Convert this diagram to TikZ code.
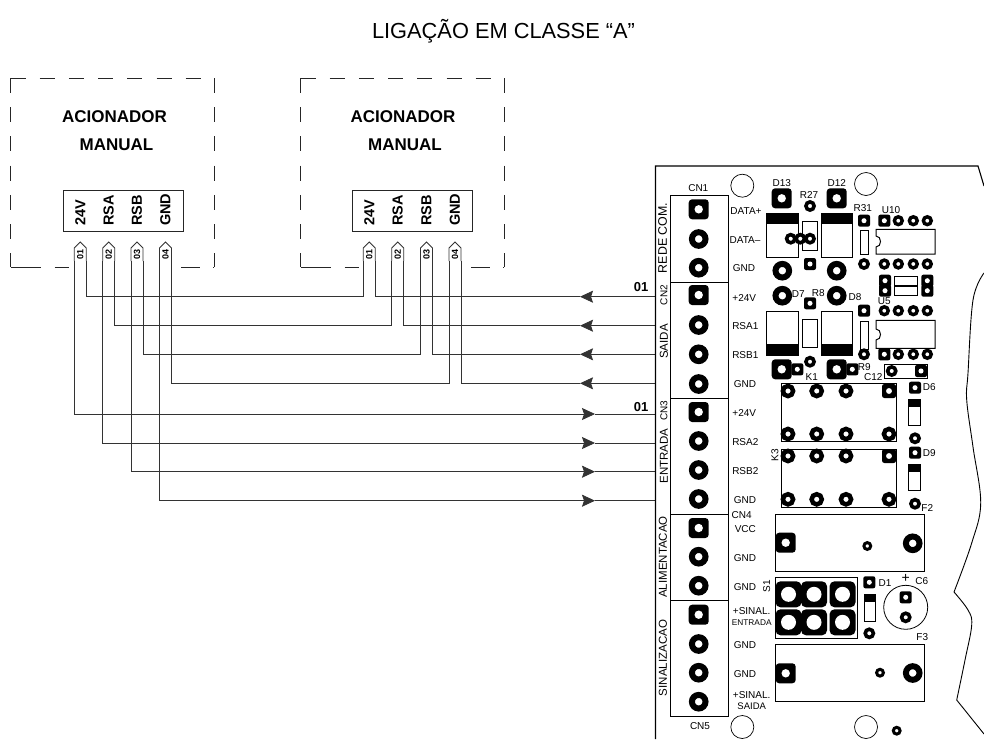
\documentclass[tikz,border=0pt]{standalone}
\usepackage{fontspec}
\setmainfont{Liberation Sans}
\usetikzlibrary{arrows.meta,calc}

\begin{document}
\begin{tikzpicture}[x=1pt,y=-1pt,>={Stealth[length=13pt,width=12pt,inset=2pt]},
  wire/.style={line width=.8pt,draw=black!80},
  dash box/.style={line width=.7pt,draw=black!85,dash pattern=on 15pt off 14.2pt},
  comp/.style={line width=1pt,draw=black},
  strip/.style={line width=.8pt,draw=black!85},
  round pad/.style={circle,draw,fill=white,inner sep=0pt,line width=#1*.3pt,minimum size=#1*.68pt},
  square pad/.style={rectangle,fill=black,rounded corners=#1*.17pt,inner sep=0pt,minimum size=#1*1pt,
    path picture={\fill[white] (path picture bounding box.center) circle (#1*.21pt);}},
  wide pad/.style={rectangle,fill=black,rounded corners=5pt,inner sep=0pt,minimum size=26pt,
    path picture={\fill[white] (path picture bounding box.center) circle (7.5pt);}},
  box title/.style={font=\fontsize{17}{18}\selectfont\bfseries,inner sep=0pt},
  term label/.style={font=\fontsize{14.5}{16}\selectfont\bfseries,rotate=90,anchor=west,inner sep=0pt},
  pin label/.style={font=\fontsize{9}{10}\selectfont\bfseries,rotate=90,inner sep=0pt,outer sep=0pt,
    minimum width=13pt,minimum height=12pt},
  wire label/.style={font=\fontsize{13}{14}\selectfont\bfseries,inner sep=0pt},
  board text/.style={font=\fontsize{10}{11}\selectfont,inner sep=0pt},
  side text/.style={font=\fontsize{11.5}{12}\selectfont,rotate=90,inner sep=0pt}]
  \useasboundingbox (0,0) rectangle (984,739);

  \node[font=\fontsize{21.8}{24}\selectfont,inner sep=0pt] (title) at (503.5,31) {LIGAÇÃO EM CLASSE “A”};

  % acionadores
  \foreach \x in {0,290} {
    \begin{scope}[xshift=\x pt]
      \draw[dash box] (10.5,78) -- (214,78);
      \draw[dash box] (10.5,78) -- (10.5,267);
      \draw[dash box] (214,78) -- (214,267);
      \draw[dash box,dash pattern=on 30pt off 14pt on 15pt off 14pt] (10.5,267) -- (69,267);
      \draw[dash box,dash pattern=on 19pt off 13pt on 2pt off 20pt] (181,267) -- (214,267);
    \end{scope}
  }
  \node[box title] (acA) at (114.5,117) {ACIONADOR};
  \node[box title] (manA) at (116.5,145) {MANUAL};
  \node[box title] (acB) at (403,117) {ACIONADOR};
  \node[box title] (manB) at (405,145) {MANUAL};
  \draw[strip] (63,190.7) rectangle (183,231.3);
  \draw[strip] (352,190.7) rectangle (472,231.3);
  \foreach \n/\t/\x in {1/24V/80.3,2/RSA/108.7,3/RSB/137,4/GND/165.5} {
    \node[term label] (tA\n) at (\x,226) {\t};
    \node[pin label] (a\n) at (\x,254.5) {0\n};
  }
  \foreach \n/\t/\x in {1/24V/369.3,2/RSA/397.7,3/RSB/426.5,4/GND/455} {
    \node[term label] (tB\n) at (\x,226) {\t};
    \node[pin label] (b\n) at (\x,254.5) {0\n};
  }
  \foreach \p in {a1,a2,a3,a4,b1,b2,b3,b4}
    \draw[wire] (\p.north west) -- (\p.north east) -- ++(6,-6) -- ++(6,6) -- (\p.south west);

  % saida
  \foreach \n/\y in {1/296.7,2/325.7,3/354.3,4/383.3} {
    \coordinate (e\n) at (655.5,\y);
    \coordinate (g\n) at (580,\y);
    \draw[wire] (a\n.south west) -- (a\n.south west |- e\n) -- (b\n.north west |- e\n) -- (b\n.north west);
    \draw[wire] (b\n.south west) |- (g\n);
    \draw[wire,->] (e\n) -- (g\n);
  }
  % entrada
  \foreach \n/\k/\y in {1/5/414,2/6/443,3/7/471.7,4/8/500.7} {
    \coordinate (e\k) at (655.5,\y);
    \coordinate (g\k) at (595,\y);
    \draw[wire,->] (a\n.north west) |- (g\k);
    \draw[wire] (g\k) -- (e\k);
  }
  \node[wire label] (w1) at (641,286.7) {01};
  \node[wire label] (w2) at (641,406.7) {01};

  % placa
  \draw[line width=1.1pt] (655.5,739) -- (655.5,166) -- (978,166) -- (984,186);
  \draw[line width=.9pt] plot[smooth,tension=.6] coordinates {(984,273) (973,300) (968,373) (966.7,400) (973,447) (980.7,503) (971.7,543) (954,592)};
  \draw[line width=.9pt] plot[smooth,tension=.6] coordinates {(954,592) (968,610) (971.7,625) (965,660) (956.7,700)} -- (984,734);

  % conectores
  \draw[comp] (670,195) rectangle (728,716);
  \foreach \y in {282,398,514,600.7}
    \draw[comp] (670,\y) -- (728,\y);
  \foreach \n/\y in {1/209.3,4/295,8/412,11/528,14/614.7}
    \node[square pad=20] (t\n) at (698.7,\y) {};
  \foreach \n/\y in {2/239,3/267.7,5/325,6/354.3,7/384,9/441,10/470,12/499,13/556.7,15/585.7,16/644,17/672.7,18/701.7}
    \node[round pad=20] (t\n) at (698.7,\y) {};

  \foreach[count=\i] \t/\x/\y in {DATA+/746/210.7,DATA–/745/240,GND/744/268.3,+24V/744.3/298,RSA1/745.3/326,RSB1/745.3/355,GND/745/384,
    +24V/744.3/413.3,RSA2/745.3/442.3,RSB2/745.3/471,GND/745/500,CN4/741.7/515,VCC/745.3/529,GND/745/557.7,GND/745/586.7,
    +SINAL./751.7/611.3,GND/745/644.7,GND/745/673.7,+SINAL./751.7/695.3,CN1/698.3/188.3,CN5/700/726,
    D13/781.7/182.7,D12/836.7/182.7,R27/809/195,R31/862.7/208.3,U10/891/210,D7/798.3/294.3,R8/818.3/293.3,D8/855/296.7,U5/884.3/301,
    K1/811.7/376.7,R9/864.3/367.3,C12/873.3/376.7,D6/929.3/387.3,D9/929.3/452.7,F2/927.3/507.7,D1/885/582.7,C6/921.7/580.7,F3/922.3/637.3}
    \node[board text] (bt\i) at (\x,\y) {\t};
  \node[board text,font=\fontsize{8.3}{9}\selectfont] (btE) at (751.7,623) {ENTRADA};
  \node[board text,font=\fontsize{9.5}{10}\selectfont] (btS) at (751.7,706.7) {SAIDA};
  \node[board text,rotate=90] (btK) at (775,455) {K3};
  \node[board text,rotate=90] (btF) at (766.7,586) {S1};
  \node[board text,font=\fontsize{14}{15}\selectfont] (btP) at (905.7,578) {+};

  \node[side text,font=\fontsize{12.4}{13}\selectfont] (sd1) at (662.7,238) {REDE COM.};
  \foreach[count=\i from 2] \t/\x/\y in {SAIDA/664/341.5,ENTRADA/664/456,ALIMENTACAO/663/557,SINALIZACAO/663/658}
    \node[side text] (sd\i) at (\x,\y) {\t};
  \node[side text,font=\fontsize{10}{11}\selectfont] (sdA) at (664,295) {CN2};
  \node[side text,font=\fontsize{10}{11}\selectfont] (sdB) at (664,410.5) {CN3};

  % furos
  \draw[line width=.7pt] (742.3,185.7) circle (11.5) (866,184) circle (11.5) (742.3,727) circle (11.5) (866,727) circle (11.5);
  \node[round pad=10] (h1) at (896.7,730.7) {};

  % diodos e resistores
  \foreach \x/\w in {766.7/798.7,821/852.3} {
    \draw[comp] (\x,213) rectangle (\w,257);
    \fill (\x,213) rectangle (\w,224.3);
    \draw[comp] (\x,311.7) rectangle (\w,355);
    \fill (\x,344) rectangle (\w,355);
  }
  \draw[comp] (802.3,221) rectangle (817.7,250);
  \draw[comp] (802.3,319) rectangle (817.7,347.7);
  \draw[comp] (860,230.7) rectangle (868.7,254.3);
  \draw[comp] (860,321.7) rectangle (868.7,349);
  \foreach \n/\x/\y in {1/781.7/198.3,2/836.7/198.3,3/781.7/369.3,4/836.7/369.3}
    \node[square pad=20] (q\n) at (\x,\y) {};
  \foreach \n/\x/\y in {1/782.3/270.7,2/836.7/270.7,3/782.3/295.7,4/836.7/295.7}
    \node[round pad=20] (c\n) at (\x,\y) {};
  \foreach \n/\x/\y in {1/810/264,2/810/303.3,3/864/220.7,4/864/310.7,5/921/371,6/797.3/369.3,7/852.3/369.3,8/885/280.7,9/885/290.7,10/927.3/280.7,11/927.3/290.7,12/884.3/220.7,13/884.3/354.3,14/915/387.7,15/915/452.7,16/869.3/582.3,17/905.7/597.3}
    \node[square pad=12] (s\n) at (\x,\y) {};
  \foreach \n/\x/\y in {1/810/206,2/790.7/238.7,3/800.3/238.7,4/810/238.7,5/864/264,6/864/354.3,7/810/361.7,8/891.7/371,9/915/438.3,10/915/503.7,11/869.3/633.3,12/905.7/617.3}
    \node[round pad=12] (r\n) at (\x,\y) {};

  % CIs
  \draw[comp] (876,229.3) -- (935,229.3) -- (935,254) -- (876,254) -- (876,247) .. controls (882,247) and (882,236) .. (876,236) -- cycle;
  \draw[comp] (876,320.3) -- (935,320.3) -- (935,348.3) -- (876,348.3) -- (876,340) .. controls (882,340) and (882,329) .. (876,329) -- cycle;
  \foreach \n/\x/\y in {1/898.3/220.7,2/913.3/220.7,3/927.3/220.7,4/884.3/264,5/898.3/264,6/913.3/264,7/927.3/264,8/884.3/310.7,9/898.3/310.7,10/913.3/310.7,11/927.3/310.7,12/898.3/354.3,13/913.3/354.3,14/927.3/354.3}
    \node[round pad=11.5] (u\n) at (\x,\y) {};
  \draw[comp] (894,276) rectangle (917.7,295);
  \draw[line width=2.2pt] (894,286) -- (917.7,286);
  \draw[comp] (884.3,364) rectangle (927.3,378.3);

  % reles
  \draw[comp] (781.3,383.3) rectangle (896,441.7);
  \draw[comp] (781.3,449) rectangle (896,507.3);
  \foreach \n/\x in {1/788,2/816.7,3/846} {
    \node[round pad=15] (ka\n) at (\x,391) {};
    \node[round pad=15] (kb\n) at (\x,434) {};
    \node[round pad=15] (kc\n) at (\x,456) {};
    \node[round pad=15] (kd\n) at (\x,499.3) {};
  }
  \node[square pad=14] (ka4) at (889,391) {};
  \node[round pad=15] (kb4) at (889,434) {};
  \node[square pad=14] (kc4) at (889,456) {};
  \node[round pad=15] (kd4) at (889,499.3) {};

  \foreach \a/\b in {399.3/425.7,464.3/490.7} {
    \draw[comp] (908.7,\a) rectangle (920.7,\b);
    \fill (908.7,\a) rectangle (920.7,\a+7.4);
  }
  \draw[comp] (864,594.3) rectangle (875.3,621);
  \fill (864,594.3) rectangle (875.3,601.7);

  % fusiveis
  \draw[comp] (775,514) rectangle (924.3,571.7);
  \draw[comp] (775,644) rectangle (924.3,701.7);
  \node[square pad=20] (f1) at (785.7,542.7) {};
  \node[round pad=10] (f2) at (867.3,546) {};
  \node[round pad=20] (f3) at (912.7,543.3) {};
  \node[square pad=20] (f4) at (785.7,673.3) {};
  \node[round pad=10] (f5) at (880,672.7) {};
  \node[round pad=20] (f6) at (912.7,673) {};

  % chave
  \draw[comp] (775,577.7) rectangle (857,638.3);
  \foreach \n/\x in {1/788.5,2/814,3/842.5} {
    \node[wide pad] (wa\n) at (\x,594.3) {};
    \node[wide pad] (wb\n) at (\x,622.3) {};
  }
  \draw[line width=.8pt] (905.7,607.3) circle (22);
\end{tikzpicture}
\end{document}
